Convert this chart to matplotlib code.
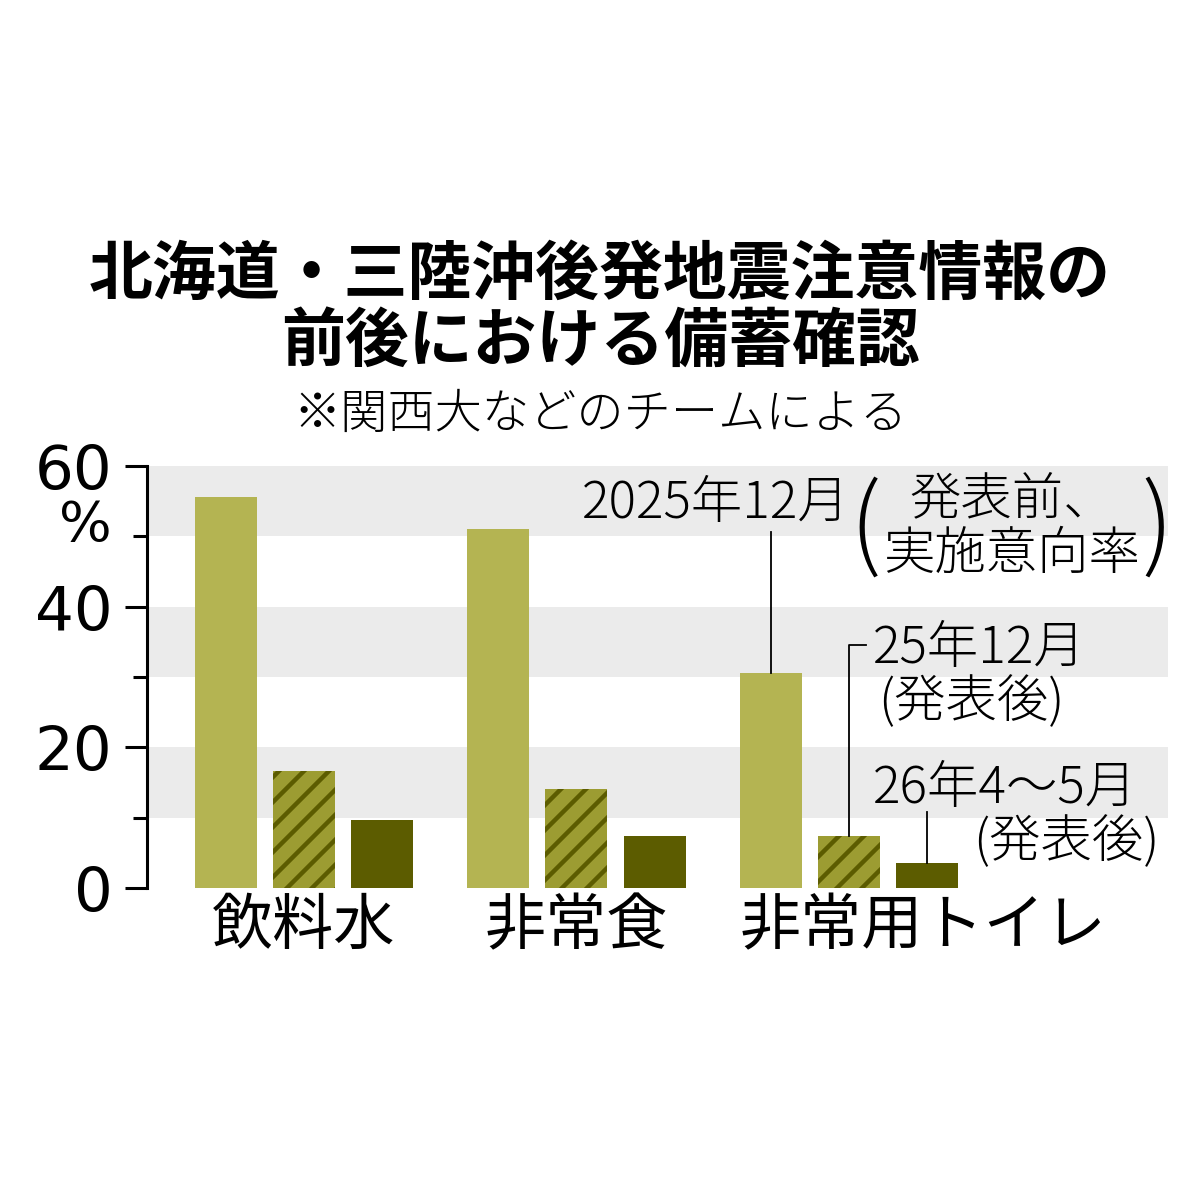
import matplotlib
matplotlib.use("Agg")
import matplotlib.pyplot as plt
import numpy as np

# figure drawn at 75 dpi so that the hatch stripes get the reference spacing;
# S turns "points at 100 dpi" into points at 75 dpi
DPI = 75
S = 100 / DPI

plt.rcParams['font.family'] = ['Noto Sans CJK JP', 'DejaVu Sans']
plt.rcParams['hatch.linewidth'] = 3.2 * S

categories = ['飲料水', '非常食', '非常用トイレ']
before_2025_12 = [55.6, 51.1, 30.6]   # 2025年12月(発表前、実施意向率)
after_2025_12 = [16.6, 14.1, 7.4]     # 25年12月(発表後)
after_2026_45 = [9.7, 7.4, 3.6]       # 26年4~5月(発表後)
yticks = [0, 20, 40, 60]

light = '#b4b452'
mid = '#9c9c32'
dark = '#5c5c00'

fig = plt.figure(figsize=(1200 / DPI, 1200 / DPI), dpi=DPI)
ax = fig.add_axes([147/1200, 0.26, (1168-147)/1200, 422/1200])

x = np.arange(len(categories))
off = 0.2866
w = 0.2275

for lo in (10, 30, 50):
    ax.axhspan(lo, lo + 10, color='#ebebeb', lw=0, zorder=0)

ax.bar(x - off, before_2025_12, w, color=light, zorder=2)
ax.bar(x, after_2025_12, w, facecolor=mid, edgecolor=dark, hatch='/', lw=0, zorder=2)
ax.bar(x + off, after_2026_45, w, color=dark, zorder=2)

ax.set_xlim(-0.576, 3.171)
ax.set_ylim(0, 60)
for s in ('top', 'right', 'bottom'):
    ax.spines[s].set_visible(False)
ax.spines['left'].set_linewidth(2.2 * S)
ax.set_yticks(yticks)
ax.set_yticklabels([str(v) for v in yticks], fontsize=44 * S, family='DejaVu Sans')
ax.set_yticks([10, 30, 50], minor=True)
ax.tick_params(axis='y', which='major', length=16 * S, width=2.2 * S, pad=9 * S)
ax.tick_params(axis='y', which='minor', length=10 * S, width=2.2 * S)
ax.set_xticks([])
ax.text(-0.705, 51.4, '%', fontsize=40 * S, family='DejaVu Sans',
        ha='right', va='center', clip_on=False)

# category labels
ax.text(0, -5.5, categories[0], fontsize=44 * S, ha='center', va='center', clip_on=False)
ax.text(1, -5.5, categories[1], fontsize=44 * S, ha='center', va='center', clip_on=False)
ax.text(2 - off - w / 2, -5.5, categories[2], fontsize=44 * S, ha='left', va='center', clip_on=False)

# leader lines
lk = dict(color='black', lw=1.3 * S, zorder=3)
ax.plot([2 - off, 2 - off], [before_2025_12[2], 50.6], **lk)
ax.plot([2, 2, 2.062], [after_2025_12[2], 34.6, 34.6], **lk)
ax.plot([2 + off, 2 + off], [after_2026_45[2], 10.8], **lk)

tk = dict(fontsize=37 * S, fontweight='light', va='center', clip_on=False, zorder=4)
pk = dict(fontsize=72 * S, fontweight='light', va='center', ha='center', clip_on=False)
ax.text(2.004, 54.6, '2025年12月', ha='right', **tk)
ax.text(2.06, 51.0, '(', **pk)
ax.text(2.598, 55.2, '発表前、', ha='center', **tk)
ax.text(2.598, 47.4, '実施意向率', ha='center', **tk)
ax.text(3.13, 51.0, ')', **pk)
ax.text(2.088, 34.1, '25年12月', ha='left', **tk)
ax.text(2.106, 26.4, '(発表後)', ha='left', **tk)
ax.text(2.088, 14.2, '26年4〜5月', ha='left', **tk)
ax.text(3.141, 6.5, '(発表後)', ha='right', **tk)

fig.text(0.5, 1 - 275/1200, '北海道・三陸沖後発地震注意情報の', fontsize=46 * S,
         fontweight='bold', ha='center', va='center')
fig.text(0.5, 1 - 342/1200, '前後における備蓄確認', fontsize=46 * S,
         fontweight='bold', ha='center', va='center')
fig.text(0.5, 1 - 414/1200, '※関西大などのチームによる', fontsize=34 * S,
         fontweight='light', ha='center', va='center')

fig.savefig('out.png', dpi=DPI, facecolor='white')
